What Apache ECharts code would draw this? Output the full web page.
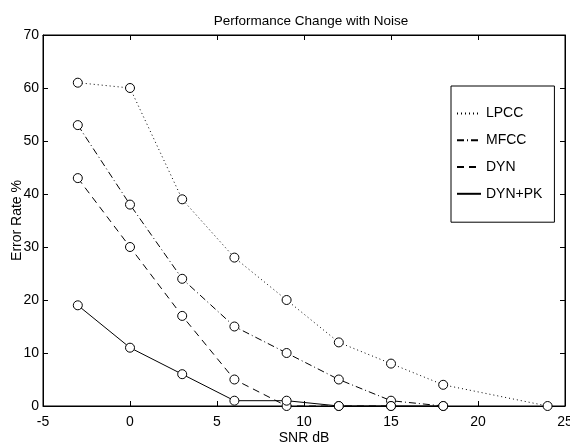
<!DOCTYPE html>
<html>
<head>
<meta charset="utf-8">
<script src="https://cdn.jsdelivr.net/npm/echarts@6/dist/echarts.min.js"></script>
<style>html,body{margin:0;padding:0;background:#fff;}#c{width:570px;height:444px;}</style>
</head>
<body>
<div id="c"></div>
<script>
const snr = [-3, 0, 3, 6, 9, 12, 15, 18, 24];
const lpcc = [61, 60, 39, 28, 20, 12, 8, 4, 0];
const mfcc = [53, 38, 24, 15, 10, 5, 1, 0];
const dyn = [43, 30, 17, 5, 0, 0, 0];
const dynpk = [19, 11, 6, 1, 1, 0, 0, 0];
const xTicks = [-5, 0, 5, 10, 15, 20, 25];
const yTicks = [0, 10, 20, 30, 40, 50, 60, 70];

function pairs(vals) { return vals.map((v, i) => [snr[i], v]); }

const font = "'Liberation Sans', Arial, sans-serif";
const black = '#000';

function mk(name, vals, dash) {
  return {
    name: name, type: 'line', data: pairs(vals),
    symbol: 'circle', symbolSize: 9,
    itemStyle: { color: '#fff', borderColor: black, borderWidth: 1 },
    lineStyle: { color: black, width: 1, type: dash },
    emphasis: { disabled: true }, animation: false, z: 3
  };
}

const chart = echarts.init(document.getElementById('c'), null, { renderer: 'canvas' });
chart.setOption({
  animation: false,
  backgroundColor: '#fff',
  title: {
    text: 'Performance Change with Noise', left: 306, top: 9, textAlign: 'center',
    textStyle: { fontFamily: font, fontSize: 13.5, fontWeight: 'normal', color: black }
  },
  grid: { left: 43, right: 5, top: 35, bottom: 38, outerBoundsMode: 'none', containLabel: false,
          show: true, borderColor: black, borderWidth: 1, backgroundColor: 'transparent' },
  legend: {
    orient: 'vertical', left: 451, top: 86,
    padding: [20, 12, 21, 5], itemGap: 12, itemWidth: 24, itemHeight: 16,
    borderColor: black, borderWidth: 1, backgroundColor: '#fff',
    textStyle: { fontFamily: font, fontSize: 14, color: black },
    itemStyle: { opacity: 0 },
    data: ['LPCC', 'MFCC', 'DYN', 'DYN+PK']
  },
  xAxis: [{
    type: 'value', min: xTicks[0], max: xTicks[xTicks.length - 1], interval: 5,
    name: 'SNR dB', nameLocation: 'middle', nameGap: 25, nameMoveOverlap: false,
    nameTextStyle: { fontFamily: font, fontSize: 14, color: black },
    axisLine: { show: true, onZero: false, lineStyle: { color: black, width: 1 } },
    axisTick: { show: true, inside: true, length: 5, lineStyle: { color: black } },
    axisLabel: { fontFamily: font, fontSize: 14, color: black, margin: 9 },
    splitLine: { show: false }
  }, {
    type: 'value', position: 'top', min: xTicks[0], max: xTicks[xTicks.length - 1], interval: 5,
    axisLine: { show: true, onZero: false, lineStyle: { color: black, width: 1 } },
    axisTick: { show: true, inside: true, length: 5, lineStyle: { color: black } },
    axisLabel: { show: false }, splitLine: { show: false }
  }],
  yAxis: [{
    type: 'value', min: yTicks[0], max: yTicks[yTicks.length - 1], interval: 10,
    name: 'Error Rate %', nameLocation: 'middle', nameGap: 19, nameRotate: 90, nameMoveOverlap: false,
    nameTextStyle: { fontFamily: font, fontSize: 14, color: black },
    axisLine: { show: true, onZero: false, lineStyle: { color: black, width: 1 } },
    axisTick: { show: true, inside: true, length: 5, lineStyle: { color: black } },
    axisLabel: { fontFamily: font, fontSize: 14, color: black, margin: 4 },
    splitLine: { show: false }
  }, {
    type: 'value', position: 'right', min: yTicks[0], max: yTicks[yTicks.length - 1], interval: 10,
    axisLine: { show: true, onZero: false, lineStyle: { color: black, width: 1 } },
    axisTick: { show: true, inside: true, length: 5, lineStyle: { color: black } },
    axisLabel: { show: false }, splitLine: { show: false }
  }],
  series: [
    mk('LPCC', lpcc, [1, 3]),
    mk('MFCC', mfcc, [7, 3, 1, 3]),
    mk('DYN', dyn, [7, 5]),
    mk('DYN+PK', dynpk, 'solid')
  ]
});
</script>
</body>
</html>
